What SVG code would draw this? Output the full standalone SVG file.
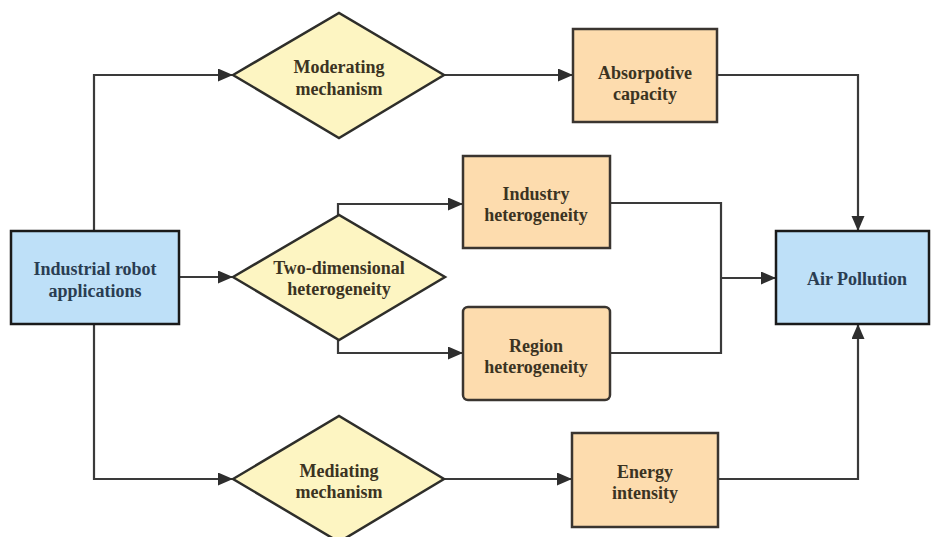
<svg xmlns="http://www.w3.org/2000/svg" width="931" height="537" viewBox="0 0 931 537">
<style>
.blue{fill:#bee0f8;stroke:#1a1a1a;stroke-width:2.5}
.peach{fill:#fddcae;stroke:#3a3530;stroke-width:2.5}
.dia{fill:#fdf5c2;stroke:#2e2e2a;stroke-width:2.5}
.t{font-family:'Liberation Serif','Times New Roman',serif;font-weight:bold;font-size:18px;text-anchor:middle}
.tb{fill:#2a3d52}
.tk{fill:#3b3322}
.c{fill:none;stroke:#3a3a3a;stroke-width:2.2}
</style>
<defs>
<marker id="ah" markerUnits="userSpaceOnUse" markerWidth="16" markerHeight="14" refX="15" refY="6.5" orient="auto">
<path d="M0,0 L15,6.5 L0,13 z" fill="#2e2e2e"/>
</marker>
</defs>
<g id="connectors">
<path class="c" d="M94,231 V75 H233" marker-end="url(#ah)"/>
<path class="c" d="M179,277 H233" marker-end="url(#ah)"/>
<path class="c" d="M94,324 V479 H233" marker-end="url(#ah)"/>
<path class="c" d="M444,75 H573" marker-end="url(#ah)"/>
<path class="c" d="M717,75 H858 V231" marker-end="url(#ah)"/>
<path class="c" d="M338,215 V204 H463" marker-end="url(#ah)"/>
<path class="c" d="M338,340 V353 H463" marker-end="url(#ah)"/>
<path class="c" d="M610,203 H721 V353 H610"/>
<path class="c" d="M721,278 H776" marker-end="url(#ah)"/>
<path class="c" d="M444,479 H572" marker-end="url(#ah)"/>
<path class="c" d="M718,479 H858 V324" marker-end="url(#ah)"/>
</g>
<g id="industrial">
<rect class="blue" x="11" y="231" width="168" height="93"/>
<text class="t tb" x="95" y="275">Industrial robot</text>
<text class="t tb" x="95" y="297">applications</text>
</g>
<g id="moderating">
<polygon class="dia" points="233,75 339,13 444,75 339,138"/>
<text class="t tk" x="339" y="73">Moderating</text>
<text class="t tk" x="339" y="95">mechanism</text>
</g>
<g id="twodim">
<polygon class="dia" points="233,277 339,215 445,277 339,340"/>
<text class="t tk" x="339" y="274">Two-dimensional</text>
<text class="t tk" x="339" y="295">heterogeneity</text>
</g>
<g id="mediating">
<polygon class="dia" points="233,479 339,416 444,479 339,542"/>
<text class="t tk" x="339" y="477">Mediating</text>
<text class="t tk" x="339" y="498">mechanism</text>
</g>
<g id="absorptive">
<rect class="peach" x="573" y="29" width="144" height="93"/>
<text class="t tk" x="645" y="79">Absorpotive</text>
<text class="t tk" x="645" y="100">capacity</text>
</g>
<g id="industry">
<rect class="peach" x="463" y="156" width="147" height="92"/>
<text class="t tk" x="536" y="200">Industry</text>
<text class="t tk" x="536" y="221">heterogeneity</text>
</g>
<g id="region">
<rect class="peach" x="463" y="307" width="147" height="93" rx="5"/>
<text class="t tk" x="536" y="352">Region</text>
<text class="t tk" x="536" y="373">heterogeneity</text>
</g>
<g id="energy">
<rect class="peach" x="572" y="433" width="146" height="94"/>
<text class="t tk" x="645" y="478">Energy</text>
<text class="t tk" x="645" y="499">intensity</text>
</g>
<g id="air">
<rect class="blue" x="776" y="231" width="153" height="93"/>
<text class="t tb" x="857" y="285">Air Pollution</text>
</g>
</svg>
